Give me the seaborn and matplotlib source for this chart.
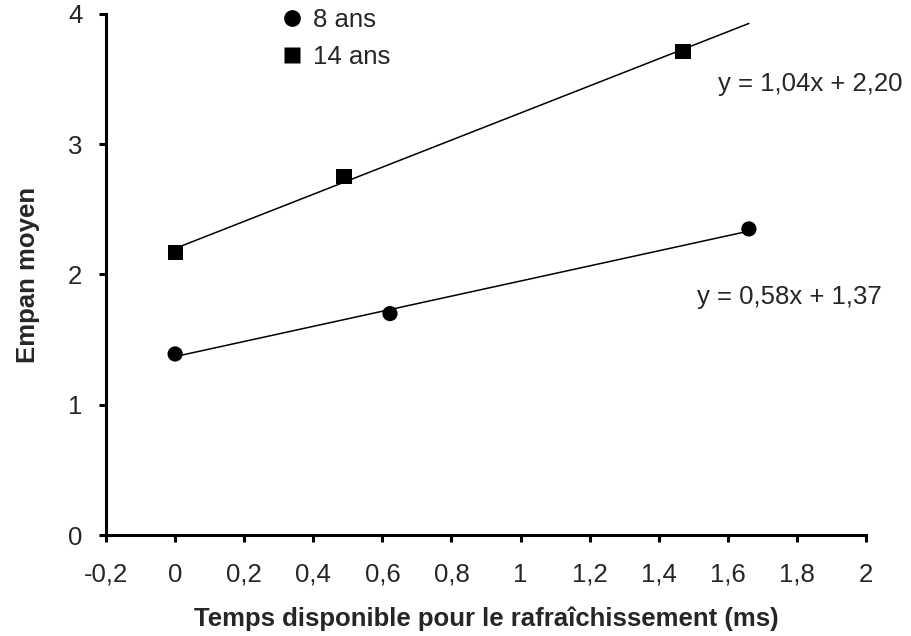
import matplotlib
matplotlib.use("Agg")
import matplotlib.pyplot as plt
import seaborn as sns
import numpy as np
import pandas as pd

groups = ["8 ans", "14 ans"]
x_8 = [0.0, 0.622, 1.661]
y_8 = [1.39, 1.70, 2.35]
x_14 = [0.0, 0.489, 1.47]
y_14 = [2.17, 2.755, 3.71]
slopes = [0.58, 1.04]
intercepts = [1.37, 2.20]
equations = ["y = 0,58x + 1,37", "y = 1,04x + 2,20"]
xticks = [-0.2, 0, 0.2, 0.4, 0.6, 0.8, 1, 1.2, 1.4, 1.6, 1.8, 2]
yticks = [0, 1, 2, 3, 4]

sns.set_style("white")
plt.rcParams['font.family'] = ['Liberation Sans', 'DejaVu Sans']

df = pd.DataFrame({
    "x": x_8 + x_14,
    "y": y_8 + y_14,
    "group": [groups[0]] * len(x_8) + [groups[1]] * len(x_14),
})

fit_x = np.array([0.0, max(x_8)])
lines = pd.DataFrame({
    "x": np.concatenate([fit_x, fit_x]),
    "y": np.concatenate([slopes[0] * fit_x + intercepts[0], slopes[1] * fit_x + intercepts[1]]),
    "group": [groups[0]] * 2 + [groups[1]] * 2,
})

fig = plt.figure(figsize=(9.11, 6.36), dpi=100)
ax = fig.add_axes([0.1164, 0.1588, 0.8342, 0.8192])

sns.lineplot(data=lines, x="x", y="y", units="group", estimator=None,
             color="black", linewidth=1.1, ax=ax, legend=False)
sns.scatterplot(data=df, x="x", y="y", style="group", markers={"8 ans": "o", "14 ans": "s"},
                color="black", s=120, edgecolor="none", ax=ax, legend=True)

FS = 18.5
ax.set_xlim(-0.2, 2)
ax.set_ylim(0, 4)
ax.set_xticks(xticks)
ax.set_yticks(yticks)
ax.set_xticklabels([("%g" % t).replace(".", ",") for t in xticks], fontsize=FS)
ax.set_yticklabels([str(t) for t in yticks], fontsize=FS)
ax.tick_params(axis="both", direction="out", length=5, width=2.2, color="black",
               bottom=True, left=True)
ax.tick_params(axis="x", pad=15)
ax.tick_params(axis="y", pad=12)
for side in ["top", "right"]:
    ax.spines[side].set_visible(False)
for side in ["left", "bottom"]:
    ax.spines[side].set_linewidth(2.2)
    ax.spines[side].set_color("black")

ax.set_xlabel("Temps disponible pour le rafraîchissement (ms)", fontsize=FS, fontweight="bold", labelpad=14)
ax.set_ylabel("Empan moyen", fontsize=FS, fontweight="bold", labelpad=20)

ax.text(1.84, 3.46, equations[1], fontsize=FS, ha="center", va="center")
ax.text(1.777, 1.83, equations[0], fontsize=FS, ha="center", va="center")

leg = ax.legend(loc="upper left", bbox_to_anchor=(0.228, 1.012), frameon=False, fontsize=FS,
                handletextpad=0.3, labelspacing=0.5, handlelength=1.0, borderpad=0,
                borderaxespad=0, markerscale=1.1)
for h in leg.legend_handles:
    h.set_color("black")

fig.savefig("out.png", dpi=100)
